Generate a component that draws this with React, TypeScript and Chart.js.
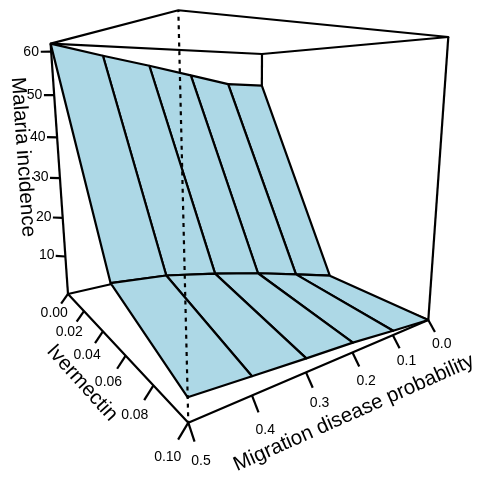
import { useEffect, useRef } from "react";
import { Chart, registerables } from "chart.js";

Chart.register(...registerables);

// ---- data ----
const migrationValues = [0, 0.1, 0.2, 0.3, 0.4, 0.5];
const ivermectinValues = [0, 0.05, 0.1];
const incidenceAtIvermectin000 = [52.4, 52.8, 55.1, 57.4, 59.5, 61.8];
const incidenceAtIvermectin005 = [0.9, 4.0, 7.0, 9.6, 11.9, 13.0];
const incidenceAtIvermectin010 = [0, 1.0, 2.1, 2.8, 3.6, 4.4];
const incidenceTicks = [10, 20, 30, 40, 50, 60];
const ivermectinTicks = [0, 0.02, 0.04, 0.06, 0.08, 0.1];
const ivermectinTickLabels = ["0.00", "0.02", "0.04", "0.06", "0.08", "0.10"];
const migrationTicks = [0, 0.1, 0.2, 0.3, 0.4, 0.5];
const migrationTickLabels = ["0.0", "0.1", "0.2", "0.3", "0.4", "0.5"];
const incidenceTop = 61.8;

// ---- perspective view of the box ----
const W = 477;
const H = 478;
const project = (iverm: number, migr: number, z: number, du = 0, dv = 0, dw = 0) => {
  const u = iverm / 0.1 + du;
  const v = migr / 0.5 + dv;
  const w = z / incidenceTop + dw;
  const d = 1 - 0.3032 * u - 0.2142 * v - 0.0694 * w;
  return {
    x: (261 + 37.44 * u - 207.57 * v - 17.18 * w) / d,
    y: (250 - 27.02 * u - 19 * v - 199.75 * w) / d,
  };
};

const FONT = '"Liberation Sans", Arial, sans-serif';
const rows = [incidenceAtIvermectin000, incidenceAtIvermectin005, incidenceAtIvermectin010];

export default function App() {
  const ref = useRef<HTMLCanvasElement | null>(null);

  useEffect(() => {
    if (!ref.current) return;
    const layers: any[] = [];
    const line = (points: { x: number; y: number }[], extra: any = {}) => {
      layers.push({
        data: points,
        showLine: true,
        pointRadius: 0,
        borderColor: "#000000",
        borderWidth: 2.2,
        tension: 0,
        fill: false,
        clip: false,
        borderJoinStyle: "round",
        ...extra,
      });
    };

    const I0 = ivermectinValues[0];
    const I1 = ivermectinValues[ivermectinValues.length - 1];
    const M0 = migrationValues[0];
    const M1 = migrationValues[migrationValues.length - 1];

    // back of the box
    line([project(I0, M1, 0), project(I0, M1, incidenceTop)]);
    line([project(I1, M0, 0), project(I1, M0, incidenceTop)]);
    line([project(I0, M0, 0), project(I0, M0, incidenceTop)]);
    line([project(I0, M1, 0), project(I0, M0, 0)]);
    line([project(I1, M0, 0), project(I0, M0, 0)]);
    line([
      project(I0, M1, incidenceTop),
      project(I1, M1, incidenceTop),
      project(I1, M0, incidenceTop),
      project(I0, M0, incidenceTop),
      project(I0, M1, incidenceTop),
    ]);

    // surface, far cells first
    for (let r = 0; r < rows.length - 1; r++) {
      for (let c = 0; c < migrationValues.length - 1; c++) {
        const a = project(ivermectinValues[r], migrationValues[c], rows[r][c]);
        const b = project(ivermectinValues[r], migrationValues[c + 1], rows[r][c + 1]);
        const e = project(ivermectinValues[r + 1], migrationValues[c + 1], rows[r + 1][c + 1]);
        const f = project(ivermectinValues[r + 1], migrationValues[c], rows[r + 1][c]);
        line([a, b, e, f, a], { fill: "shape", backgroundColor: "#add8e6" });
      }
    }

    // front of the box
    line([project(I1, M1, incidenceTop), project(I1, M1, 0)], {
      borderDash: [4, 4.6],
      borderDashOffset: 2.1,
      borderJoinStyle: "miter",
    });
    line([project(I0, M1, 0), project(I1, M1, 0), project(I1, M0, 0)]);

    // tick marks
    incidenceTicks.forEach((t) =>
      line([project(I0, M1, t), project(I0, M1, t, -0.03, 0.03, 0)])
    );
    ivermectinTicks.forEach((t) =>
      line([project(t, M1, 0), project(t, M1, 0, 0, 0.03, -0.035)])
    );
    migrationTicks.forEach((t) =>
      line([project(I1, t, 0), project(I1, t, 0, 0.03, 0, -0.035)])
    );

    layers.forEach((l, i) => {
      l.order = layers.length - i;
    });

    const textPlugin = {
      id: "perspText",
      afterDraw(chart: any) {
        const ctx = chart.ctx as CanvasRenderingContext2D;
        const sx = chart.scales.x;
        const sy = chart.scales.y;
        const put = (s: string, p: { x: number; y: number }) => {
          ctx.fillText(s, sx.getPixelForValue(p.x), sy.getPixelForValue(p.y));
        };
        const title = (s: string, x: number, y: number, deg: number) => {
          ctx.save();
          ctx.translate(x, y);
          ctx.rotate((deg * Math.PI) / 180);
          ctx.fillText(s, 0, 0);
          ctx.restore();
        };
        ctx.save();
        ctx.fillStyle = "#000000";
        ctx.textAlign = "center";
        ctx.textBaseline = "middle";
        ctx.font = `14px ${FONT}`;
        incidenceTicks.forEach((t) => put(String(t), project(I0, M1, t, -0.058, 0.058, 0)));
        ivermectinTicks.forEach((t, i) =>
          put(ivermectinTickLabels[i], project(t, M1, 0, 0, 0.06, -0.07))
        );
        migrationTicks.forEach((t, i) =>
          put(migrationTickLabels[i], project(I1, t, 0, 0.06, 0, -0.07))
        );
        ctx.font = `20.6px ${FONT}`;
        title("Malaria incidence", 23, 157, 86);
        title("Ivermectin", 82, 383, 48);
        title("Migration disease probability", 354, 413, -24);
        ctx.restore();
      },
    };

    const chart = new Chart(ref.current, {
      type: "scatter",
      data: { datasets: layers },
      options: {
        responsive: false,
        animation: false,
        events: [],
        layout: { padding: 0 },
        plugins: { legend: { display: false }, tooltip: { enabled: false } },
        scales: {
          x: { type: "linear", display: false, min: 0, max: W },
          y: { type: "linear", display: false, min: 0, max: H, reverse: true },
        },
      },
      plugins: [textPlugin],
    } as any);
    return () => chart.destroy();
  }, []);

  return (
    <canvas
      ref={ref}
      width={W}
      height={H}
      style={{ position: "absolute", left: 0, top: 0, width: W, height: H, display: "block" }}
    />
  );
}
